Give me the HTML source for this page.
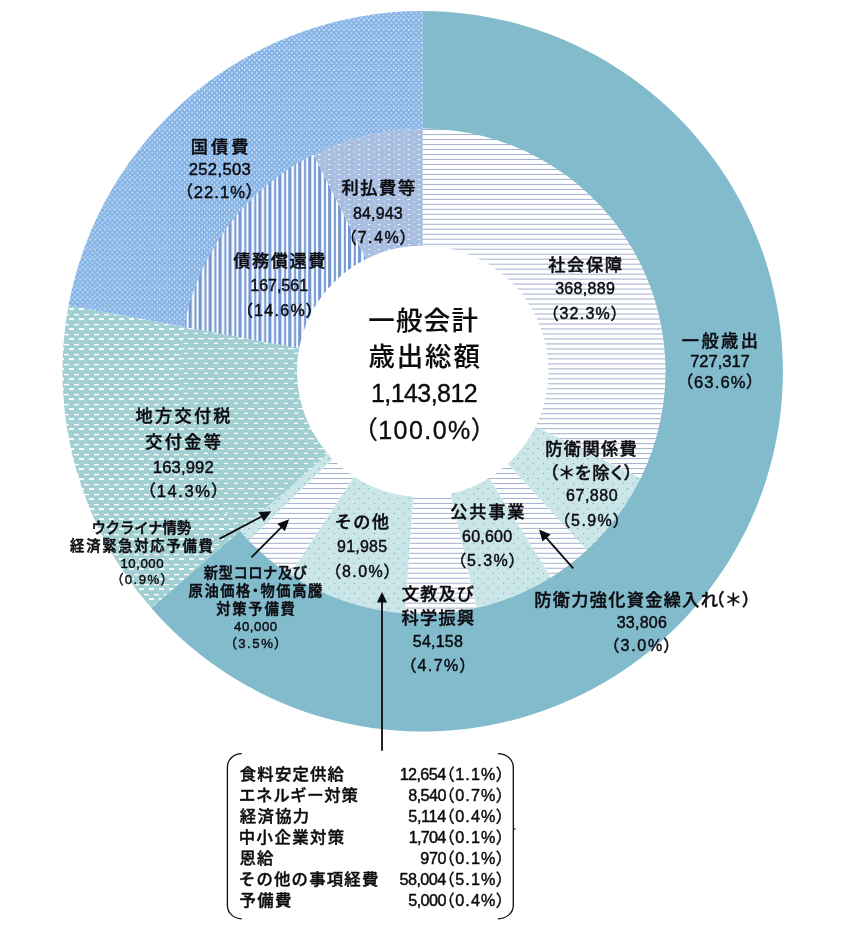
<!DOCTYPE html>
<html lang="ja">
<head>
<meta charset="utf-8">
<title>一般会計歳出総額</title>
<style>
html,body{margin:0;padding:0;background:#fff;}
body{width:850px;height:932px;overflow:hidden;font-family:'Liberation Sans','Noto Sans CJK JP',sans-serif;}
svg{display:block;}
</style>
</head>
<body>
<svg width="850" height="932" viewBox="0 0 850 932">
<defs>
<pattern id="pB" patternUnits="userSpaceOnUse" width="5" height="10" patternTransform="translate(222.01 94.91) scale(0.996 0.9975)"><rect width="5" height="10" fill="#87b3e4"/><rect x="1.95" y="4.1" width="1.1" height="1.8" fill="#fff"/><rect x="1.95" y="-0.05" width="1.1" height="1.2" fill="#fff"/><rect x="1.95" y="9.95" width="1.1" height="1.2" fill="#fff"/><rect x="-1.05" y="1.85" width="2" height="2" fill="#b0d6fb"/><rect x="3.95" y="1.85" width="2" height="2" fill="#b0d6fb"/><rect x="-1.05" y="6.95" width="2" height="2" fill="#b0d6fb"/><rect x="3.95" y="6.95" width="2" height="2" fill="#b0d6fb"/></pattern>
<pattern id="pD" patternUnits="userSpaceOnUse" width="10" height="10" patternTransform="translate(87.00 342.05) scale(1 1)"><rect width="10" height="10" fill="#a2cfd2"/><rect x="2" y="6" width="5" height="2" fill="#fff"/><rect x="-3" y="1.95" width="5" height="1.35" fill="#fff"/><rect x="7" y="1.95" width="5" height="1.35" fill="#fff"/></pattern>
<pattern id="pD2" patternUnits="userSpaceOnUse" width="10" height="10" patternTransform="translate(183.90 332.00) scale(1 1)"><rect width="10" height="10" fill="#a2cfd2"/><rect x="4" y="6" width="6.2" height="1.3" fill="#fff"/><rect x="-6" y="6" width="6.2" height="1.3" fill="#fff"/><rect x="0.1" y="0.7" width="3.9" height="1.25" fill="#fff"/></pattern>
<pattern id="pV" patternUnits="userSpaceOnUse" width="10" height="10" patternTransform="translate(298.20 0.00) scale(0.996 0.9975)"><rect width="10" height="10" fill="#fff"/><rect x="0" y="0" width="3.2" height="10" fill="#7598d3"/><rect x="5.8" y="0" width="2.1" height="10" fill="#7598d3"/></pattern>
<pattern id="pP" patternUnits="userSpaceOnUse" width="10" height="5" patternTransform="translate(355.81 132.20) scale(0.996 0.9975)"><rect width="10" height="5" fill="#a8bee0"/><rect x="2" y="2" width="2.4" height="0.9" fill="#fff"/><rect x="8.3" y="3.7" width="0.9" height="2.2" fill="#d3e0f5"/><rect x="8.3" y="-1.3" width="0.9" height="2.2" fill="#d3e0f5"/></pattern>
<pattern id="pH" patternUnits="userSpaceOnUse" width="5" height="5" patternTransform="translate(0.00 132.06) scale(1 0.997)"><rect width="5" height="5" fill="#fff"/><rect x="0" y="2" width="5" height="1" fill="#a0b0cc"/></pattern>
<pattern id="pT" patternUnits="userSpaceOnUse" width="10" height="10" patternTransform="translate(371.71 540.91) scale(0.996 0.9975)"><rect width="10" height="10" fill="#cbe6e9"/><rect x="1.95" y="1.95" width="1.1" height="1.1" fill="#7fa8ae"/><rect x="6.1" y="7.2" width="1.6" height="1.0" fill="#7fa8ae"/></pattern>
</defs>
<rect width="850" height="932" fill="#fff"/>
<path d="M422.70 11.10A360.2 360.2 0 1 1 151.21 608.02L240.15 530.47A242.20000000000002 242.20000000000002 0 1 0 422.70 129.10Z" fill="#82bbcc"/>
<path d="M151.21 608.02A360.2 360.2 0 0 1 68.56 305.48L299.21 348.35A125.6 125.6 0 0 0 328.03 453.84Z" fill="url(#pD)"/>
<path d="M68.56 305.48A360.2 360.2 0 0 1 422.70 11.10L422.70 129.10A242.20000000000002 242.20000000000002 0 0 0 184.58 327.05Z" fill="url(#pB)"/>
<path d="M422.70 128.50A242.8 242.8 0 0 1 640.74 478.13L535.49 426.56A125.6 125.6 0 0 0 422.70 245.70Z" fill="url(#pH)"/>
<path d="M640.74 478.13A242.8 242.8 0 0 1 586.84 550.22L507.61 463.85A125.6 125.6 0 0 0 535.49 426.56Z" fill="url(#pT)"/>
<path d="M586.84 550.22A242.8 242.8 0 0 1 550.98 577.45L489.06 477.94A125.6 125.6 0 0 0 507.61 463.85Z" fill="url(#pH)"/>
<path d="M550.98 577.45A242.8 242.8 0 0 1 476.57 608.05L450.57 493.77A125.6 125.6 0 0 0 489.06 477.94Z" fill="url(#pT)"/>
<path d="M476.57 608.05A242.8 242.8 0 0 1 404.81 613.44L413.44 496.56A125.6 125.6 0 0 0 450.57 493.77Z" fill="url(#pH)"/>
<path d="M404.81 613.44A242.8 242.8 0 0 1 289.83 574.52L353.97 476.43A125.6 125.6 0 0 0 413.44 496.56Z" fill="url(#pT)"/>
<path d="M289.83 574.52A242.8 242.8 0 0 1 248.73 540.67L332.71 458.92A125.6 125.6 0 0 0 353.97 476.43Z" fill="url(#pH)"/>
<path d="M248.73 540.67A242.8 242.8 0 0 1 239.70 530.87L328.03 453.84A125.6 125.6 0 0 0 332.71 458.92Z" fill="url(#pT)"/>
<path d="M239.70 530.87A242.8 242.8 0 0 1 183.99 326.94L299.21 348.35A125.6 125.6 0 0 0 328.03 453.84Z" fill="url(#pD2)"/>
<path d="M183.99 326.94A242.8 242.8 0 0 1 313.48 154.45L366.20 259.13A125.6 125.6 0 0 0 299.21 348.35Z" fill="url(#pV)"/>
<path d="M313.48 154.45A242.8 242.8 0 0 1 422.70 128.50L422.70 245.70A125.6 125.6 0 0 0 366.20 259.13Z" fill="url(#pP)"/>
<circle cx="422.7" cy="371.3" r="125.6" fill="#fff"/>
<line x1="219.4" y1="538.9" x2="262.1" y2="516.2" stroke="#0c0c10" stroke-width="1.8"/><path d="M271.4 511.3L263.8 521.5L258.7 511.9Z" fill="#0c0c10"/>
<line x1="251.5" y1="557.3" x2="281.8" y2="526.8" stroke="#0c0c10" stroke-width="1.8"/><path d="M289.2 519.3L284.9 531.3L277.3 523.7Z" fill="#0c0c10"/>
<line x1="382.0" y1="750.8" x2="382.0" y2="601.5" stroke="#0c0c10" stroke-width="1.8"/><path d="M382.0 591.9L387.1 602.5L376.9 602.5Z" fill="#0c0c10"/>
<line x1="573.2" y1="568.4" x2="545.9" y2="537.3" stroke="#0c0c10" stroke-width="1.8"/><path d="M539.0 529.4L550.6 534.5L542.5 541.6Z" fill="#0c0c10"/>
<g stroke="#0c0c10" stroke-width="1.3" fill="none">
<path d="M241.8 753.6A14.4 13.4 0 0 0 227.4 767L227.4 905.4A14.4 13.4 0 0 0 241.8 918.8"/>
<path d="M497.9 753.6A15.4 13.4 0 0 1 513.3 767L513.3 905.4A15.4 13.4 0 0 1 497.9 918.8"/>
<path d="M513.3 829L515.4 829"/>
</g>
<g font-family="'Liberation Sans','Noto Sans CJK JP',sans-serif" fill="#0c0c10" stroke="#0c0c10" stroke-linejoin="round">
<text x="190.70" y="152.50" font-size="17.2" font-weight="500" stroke-width="0.4" style="letter-spacing:3.050px">国債費</text>
<text x="188.65" y="175.20" font-size="16.6" font-weight="400" stroke-width="0.45" style="letter-spacing:0.367px">252,503</text>
<text x="184.25" y="197.80" font-size="16.6" font-weight="400" stroke-width="0.45" style="font-feature-settings:'palt';letter-spacing:1.100px">（22.1%）</text>
<text x="341.40" y="194.40" font-size="17.2" font-weight="500" stroke-width="0.4" style="letter-spacing:1.667px">利払費等</text>
<text x="353.05" y="218.70" font-size="16.0" font-weight="400" stroke-width="0.45" style="letter-spacing:0.120px">84,943</text>
<text x="348.15" y="243.10" font-size="16.0" font-weight="400" stroke-width="0.45" style="font-feature-settings:'palt';letter-spacing:1.500px">（7.4%）</text>
<text x="233.15" y="267.00" font-size="17.2" font-weight="500" stroke-width="0.4" style="letter-spacing:1.613px">債務償還費</text>
<text x="250.25" y="291.10" font-size="16.0" font-weight="400" stroke-width="0.45" style="letter-spacing:-0.008px">167,561</text>
<text x="244.55" y="315.50" font-size="16.0" font-weight="400" stroke-width="0.45" style="font-feature-settings:'palt';letter-spacing:1.350px">（14.6%）</text>
<text x="548.30" y="270.90" font-size="17.2" font-weight="500" stroke-width="0.4" style="letter-spacing:1.633px">社会保障</text>
<text x="555.15" y="294.40" font-size="16.0" font-weight="400" stroke-width="0.45" style="letter-spacing:0.325px">368,889</text>
<text x="550.15" y="318.70" font-size="16.0" font-weight="400" stroke-width="0.45" style="font-feature-settings:'palt';letter-spacing:1.250px">（32.3%）</text>
<text x="681.75" y="346.70" font-size="17.2" font-weight="500" stroke-width="0.4" style="letter-spacing:2.483px">一般歳出</text>
<text x="690.15" y="366.90" font-size="16.6" font-weight="400" stroke-width="0.45" style="letter-spacing:-0.050px">727,317</text>
<text x="684.55" y="388.30" font-size="16.6" font-weight="400" stroke-width="0.45" style="font-feature-settings:'palt';letter-spacing:1.133px">（63.6%）</text>
<text x="368.20" y="330.15" font-size="26.4" font-weight="500" stroke-width="0.15" style="letter-spacing:1.400px">一般会計</text>
<text x="368.45" y="365.85" font-size="26.4" font-weight="500" stroke-width="0.15" style="letter-spacing:1.950px">歳出総額</text>
<text x="370.90" y="402.00" font-size="25.0" font-weight="400" stroke-width="0.35" style="letter-spacing:-0.550px">1,143,812</text>
<text x="364.35" y="438.70" font-size="25.0" font-weight="400" stroke-width="0.35" style="font-feature-settings:'palt';letter-spacing:1.436px">（100.0%）</text>
<text x="135.60" y="422.10" font-size="17.2" font-weight="500" stroke-width="0.4" style="letter-spacing:2.250px">地方交付税</text>
<text x="145.25" y="448.20" font-size="17.2" font-weight="500" stroke-width="0.4" style="letter-spacing:2.317px">交付金等</text>
<text x="152.75" y="472.60" font-size="16.6" font-weight="400" stroke-width="0.45" style="letter-spacing:0.167px">163,992</text>
<text x="146.85" y="497.10" font-size="16.6" font-weight="400" stroke-width="0.45" style="font-feature-settings:'palt';letter-spacing:1.583px">（14.3%）</text>
<text x="91.45" y="532.95" font-size="14.3" font-weight="500" stroke-width="0.48" style="letter-spacing:-0.042px">ウクライナ情勢</text>
<text x="70.10" y="550.75" font-size="14.3" font-weight="500" stroke-width="0.48" style="letter-spacing:1.744px">経済緊急対応予備費</text>
<text x="120.50" y="567.50" font-size="13.2" font-weight="400" stroke-width="0.42" style="letter-spacing:0.530px">10,000</text>
<text x="116.60" y="584.40" font-size="13.2" font-weight="400" stroke-width="0.42" style="font-feature-settings:'palt';letter-spacing:1.510px">（0.9%）</text>
<text x="203.70" y="578.45" font-size="14.3" font-weight="500" stroke-width="0.48" style="letter-spacing:0.558px">新型コロナ及び</text>
<text x="188.60" y="595.85" font-size="14.3" font-weight="500" stroke-width="0.48" style="font-feature-settings:'palt';letter-spacing:1.525px">原油価格・物価高騰</text>
<text x="216.30" y="613.75" font-size="14.3" font-weight="500" stroke-width="0.48" style="letter-spacing:1.737px">対策予備費</text>
<text x="234.05" y="630.60" font-size="13.2" font-weight="400" stroke-width="0.42" style="letter-spacing:0.560px">40,000</text>
<text x="230.00" y="647.90" font-size="13.2" font-weight="400" stroke-width="0.42" style="font-feature-settings:'palt';letter-spacing:1.590px">（3.5%）</text>
<text x="334.75" y="527.80" font-size="17.2" font-weight="500" stroke-width="0.4" style="letter-spacing:1.275px">その他</text>
<text x="337.05" y="552.30" font-size="16.0" font-weight="400" stroke-width="0.45" style="letter-spacing:0.220px">91,985</text>
<text x="332.75" y="576.50" font-size="16.0" font-weight="400" stroke-width="0.45" style="font-feature-settings:'palt';letter-spacing:1.360px">（8.0%）</text>
<text x="401.85" y="599.60" font-size="17.2" font-weight="500" stroke-width="0.4" style="letter-spacing:1.100px">文教及び</text>
<text x="401.50" y="624.10" font-size="17.2" font-weight="500" stroke-width="0.4" style="letter-spacing:1.300px">科学振興</text>
<text x="412.85" y="647.30" font-size="16.0" font-weight="400" stroke-width="0.45" style="letter-spacing:0.220px">54,158</text>
<text x="407.95" y="671.30" font-size="16.0" font-weight="400" stroke-width="0.45" style="font-feature-settings:'palt';letter-spacing:1.480px">（4.7%）</text>
<text x="450.20" y="518.00" font-size="17.2" font-weight="500" stroke-width="0.4" style="letter-spacing:1.800px">公共事業</text>
<text x="462.05" y="542.10" font-size="16.0" font-weight="400" stroke-width="0.45" style="letter-spacing:0.220px">60,600</text>
<text x="457.75" y="566.40" font-size="16.0" font-weight="400" stroke-width="0.45" style="font-feature-settings:'palt';letter-spacing:1.360px">（5.3%）</text>
<text x="545.25" y="454.60" font-size="17.2" font-weight="500" stroke-width="0.4" style="letter-spacing:1.387px">防衛関係費</text>
<text x="549.55" y="478.75" font-size="17.2" font-weight="500" stroke-width="0.4" style="font-feature-settings:'palt';letter-spacing:1.390px">（＊を除く）</text>
<text x="566.05" y="500.80" font-size="16.0" font-weight="400" stroke-width="0.45" style="letter-spacing:0.520px">67,880</text>
<text x="561.65" y="525.80" font-size="16.0" font-weight="400" stroke-width="0.45" style="font-feature-settings:'palt';letter-spacing:1.420px">（5.9%）</text>
<text font-size="17.2" font-weight="500" stroke-width="0.4"><tspan x="534.25" y="605.90" style="letter-spacing:1.317px">防衛力強化資金繰入れ</tspan><tspan x="715.45" y="605.65" style="font-feature-settings:'palt';letter-spacing:2.175px">（＊）</tspan></text>
<text x="616.65" y="628.00" font-size="16.0" font-weight="400" stroke-width="0.45" style="letter-spacing:0.260px">33,806</text>
<text x="610.85" y="651.20" font-size="16.0" font-weight="400" stroke-width="0.45" style="font-feature-settings:'palt';letter-spacing:1.720px">（3.0%）</text>
<text x="239.80" y="780.20" font-size="16.4" font-weight="500" stroke-width="0.4" style="letter-spacing:1.160px">食料安定供給</text>
<text font-size="16.2" stroke-width="0.45"><tspan x="399.65" y="779.80" style="letter-spacing:-0.590px">12,654</tspan><tspan x="446.15" y="779.80" style="font-feature-settings:'palt';letter-spacing:1.060px">（1.1%）</tspan></text>
<text x="239.05" y="801.40" font-size="16.4" font-weight="500" stroke-width="0.4" style="letter-spacing:0.675px">エネルギー対策</text>
<text font-size="16.2" stroke-width="0.45"><tspan x="408.25" y="800.75" style="letter-spacing:-0.575px">8,540</tspan><tspan x="446.15" y="800.75" style="font-feature-settings:'palt';letter-spacing:1.060px">（0.7%）</tspan></text>
<text x="239.80" y="822.10" font-size="16.4" font-weight="500" stroke-width="0.4" style="letter-spacing:1.283px">経済協力</text>
<text font-size="16.2" stroke-width="0.45"><tspan x="408.25" y="821.70" style="letter-spacing:-0.325px">5,114</tspan><tspan x="446.15" y="821.70" style="font-feature-settings:'palt';letter-spacing:1.060px">（0.4%）</tspan></text>
<text x="238.80" y="843.30" font-size="16.4" font-weight="500" stroke-width="0.4" style="letter-spacing:1.410px">中小企業対策</text>
<text font-size="16.2" stroke-width="0.45"><tspan x="408.75" y="842.65" style="letter-spacing:-0.763px">1,704</tspan><tspan x="446.15" y="842.65" style="font-feature-settings:'palt';letter-spacing:1.060px">（0.1%）</tspan></text>
<text x="239.55" y="864.00" font-size="16.4" font-weight="500" stroke-width="0.4" style="letter-spacing:1.050px">恩給</text>
<text font-size="16.2" stroke-width="0.45"><tspan x="420.35" y="863.60" style="letter-spacing:-0.450px">970</tspan><tspan x="446.15" y="863.60" style="font-feature-settings:'palt';letter-spacing:1.060px">（0.1%）</tspan></text>
<text x="238.80" y="884.95" font-size="16.4" font-weight="500" stroke-width="0.4" style="letter-spacing:1.193px">その他の事項経費</text>
<text font-size="16.2" stroke-width="0.45"><tspan x="399.55" y="884.55" style="letter-spacing:-0.570px">58,004</tspan><tspan x="446.15" y="884.55" style="font-feature-settings:'palt';letter-spacing:1.060px">（5.1%）</tspan></text>
<text x="239.55" y="905.90" font-size="16.4" font-weight="500" stroke-width="0.4" style="letter-spacing:1.350px">予備費</text>
<text font-size="16.2" stroke-width="0.45"><tspan x="408.25" y="905.50" style="letter-spacing:-0.575px">5,000</tspan><tspan x="446.15" y="905.50" style="font-feature-settings:'palt';letter-spacing:1.060px">（0.4%）</tspan></text>
</g>
</svg>
</body>
</html>
